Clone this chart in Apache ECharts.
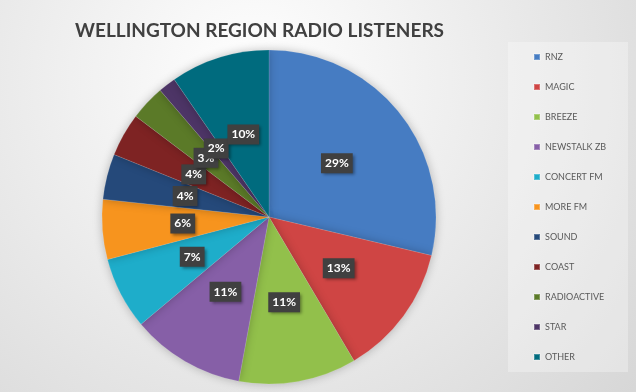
<!DOCTYPE html>
<html>
<head>
<meta charset="utf-8">
<script src="https://cdn.jsdelivr.net/npm/echarts@6/dist/echarts.min.js"></script>
<style>html,body{margin:0;padding:0;}#c{width:636px;height:392px;}</style>
</head>
<body>
<div id="c"></div>
<script>
const categories = ['RNZ','MAGIC','BREEZE','NEWSTALK ZB','CONCERT FM','MORE FM','SOUND','COAST','RADIOACTIVE','STAR','OTHER'];
const values = [28.7, 12.8, 11.4, 11.0, 7.0, 5.8, 4.4, 4.2, 3.4, 1.7, 9.6];
const colors = ['#467CC2','#CF4544','#92C04B','#865FA7','#1EADCA','#F7941E','#25497A','#7E2323','#5B7A28','#4D3566','#006B7E'];
const titleText = 'WELLINGTON REGION RADIO LISTENERS';

const chart = echarts.init(document.getElementById('c'), null, {renderer:'canvas'});
chart.setOption({
  backgroundColor: {
    type:'radial', x:0.4, y:0.2, r:1.5,
    colorStops:[{offset:0,color:'#ffffff'},{offset:1,color:'#cfcfcf'}]
  },
  color: colors,
  title: {
    text: titleText, left: 70, top: 16,
    textStyle: {fontFamily:'Lato', fontWeight:'bold', fontSize:19, color:'#404040'}
  },
  graphic: [{
    type:'rect', left:508, top:42, z:-1,
    shape:{width:120, height:330},
    style:{fill:'rgba(255,255,255,0.3)'}
  }],
  legend: {
    orient:'vertical', left:533, top:51, padding:0,
    itemWidth:6, itemHeight:6, itemGap:18, itemTextGap:3,
    icon:'rect',
    textStyle:{fontFamily:'Lato', fontSize:9, color:'#595959', lineHeight:12},
    data: categories
  },
  series: [{
    type:'pie', center:[269,217], radius:[0,167],
    startAngle:90, clockwise:true,
    avoidLabelOverlap:false,
    labelLayout:{hideOverlap:false},
    itemStyle:{borderColor:'rgba(255,255,255,0.25)', borderWidth:0.5, shadowBlur:10, shadowColor:'rgba(0,0,0,0.25)'},
    label:{
      show:true, position:'inner',
      formatter: p => Math.round(p.percent) + '%',
      color:'#ffffff', fontFamily:'Lato', fontWeight:'bold', fontSize:12,
      backgroundColor:'#404040', padding:[4,4,4,4],
      shadowBlur:3, shadowOffsetX:2, shadowOffsetY:2, shadowColor:'rgba(0,0,0,0.4)'
    },
    labelLine:{show:false},
    emphasis:{disabled:true},
    data: categories.map((c,i)=>({name:c, value:values[i]}))
  }]
});
</script>
</body>
</html>
